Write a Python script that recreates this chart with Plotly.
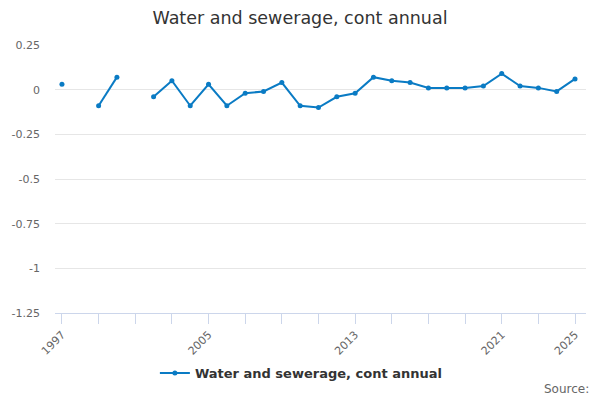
import plotly.graph_objects as go

# 연도별 값 (1998, 2001 결측)
years = list(range(1997, 2026))
values = [0.03, None, -0.09, 0.07, None, -0.04, 0.05, -0.09, 0.03, -0.09,
          -0.02, -0.01, 0.04, -0.09, -0.10, -0.04, -0.02, 0.07, 0.05, 0.04,
          0.01, 0.01, 0.01, 0.02, 0.09, 0.02, 0.01, -0.01, 0.06]
series_name = "Water and sewerage, cont annual"
y_ticks = [0.25, 0, -0.25, -0.5, -0.75, -1, -1.25]
y_tick_labels = ["0.25", "0", "-0.25", "-0.5", "-0.75", "-1", "-1.25"]
x_label_years = [1997, 2005, 2013, 2021, 2025]

line_color = "#0a7bc4"
font_family = "DejaVu Sans"

fig = go.Figure()

fig.add_trace(go.Scatter(
    x=years,
    y=values,
    mode="lines+markers",
    name=series_name,
    line=dict(color=line_color, width=2),
    marker=dict(color=line_color, size=5),
    connectgaps=False,
))

# 2년 간격 눈금 (라벨은 일부만)
tick_years = list(range(1997, 2026, 2))
fig.update_xaxes(
    range=[1996.62, 2025.6],
    tickmode="array",
    tickvals=tick_years,
    ticktext=[str(y) if y in x_label_years else "" for y in tick_years],
    tickangle=-45,
    ticks="outside",
    ticklen=10,
    tickcolor="#ccd6eb",
    showline=True,
    linecolor="#ccd6eb",
    showgrid=False,
    zeroline=False,
    automargin=False,
    tickfont=dict(size=11, color="#666666", family=font_family),
)

fig.update_yaxes(
    range=[-1.25, 0.25],
    tickmode="array",
    tickvals=y_ticks,
    ticktext=y_tick_labels,
    showgrid=True,
    gridcolor="#e6e6e6",
    zeroline=False,
    showline=False,
    automargin=False,
    tickfont=dict(size=11, color="#666666", family=font_family),
    ticklabelstandoff=14,
)

fig.update_layout(
    width=600,
    height=400,
    title=dict(
        text=series_name,
        x=0.5,
        xanchor="center",
        y=0.955,
        yanchor="middle",
        font=dict(size=17.5, color="#333333", family=font_family),
    ),
    margin=dict(l=55, r=14, t=45, b=87),
    plot_bgcolor="white",
    paper_bgcolor="white",
    showlegend=True,
    legend=dict(
        orientation="h",
        x=0.464,
        xanchor="center",
        y=-0.224,
        yanchor="middle",
        itemwidth=30,
        font=dict(size=13, color="#333333", family=font_family, weight="bold"),
    ),
    annotations=[dict(
        text="Source:",
        xref="paper",
        yref="paper",
        x=1.009,
        y=-0.284,
        xanchor="right",
        yanchor="middle",
        showarrow=False,
        font=dict(size=12, color="#666666", family=font_family),
    )],
)

# 페이지 기본 여백 제거, 모드바 숨김
fig.write_html(
    "out.html",
    config={"displayModeBar": False},
    post_script="document.body.style.margin='0px';",
)
